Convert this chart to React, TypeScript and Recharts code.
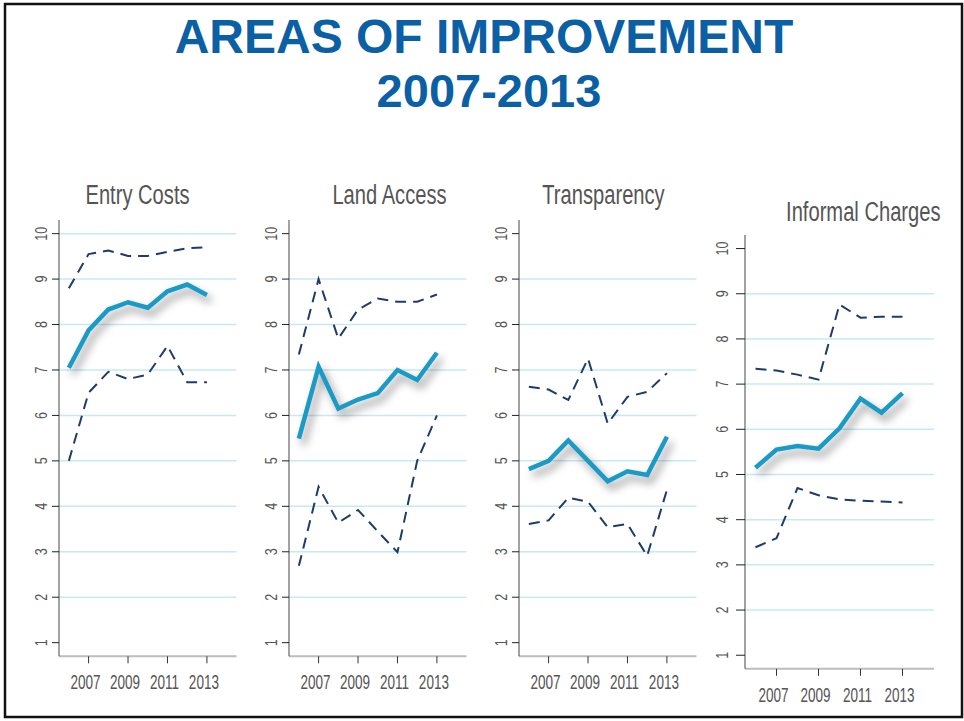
import React from "react";
import { LineChart, Line, XAxis, YAxis, ReferenceLine } from "recharts";

const years = [2006, 2007, 2008, 2009, 2010, 2011, 2012, 2013];
const yearTicks = [2007, 2009, 2011, 2013];
const scoreTicks = [1, 2, 3, 4, 5, 6, 7, 8, 9, 10];

const entryUpper = [8.8, 9.55, 9.63, 9.51, 9.51, 9.6, 9.68, 9.7];
const entryMain = [7.05, 7.87, 8.33, 8.49, 8.37, 8.73, 8.88, 8.65];
const entryLower = [5.0, 6.5, 6.96, 6.8, 6.9, 7.53, 6.73, 6.73];

const landUpper = [7.34, 9.0, 7.69, 8.33, 8.57, 8.5, 8.5, 8.66];
const landMain = [5.49, 7.07, 6.15, 6.35, 6.49, 7.0, 6.78, 7.38];
const landLower = [2.69, 4.43, 3.64, 3.92, 3.45, 2.99, 5.0, 6.0];

const transUpper = [6.63, 6.57, 6.34, 7.25, 5.82, 6.41, 6.52, 6.93];
const transMain = [4.82, 5.0, 5.45, 5.0, 4.55, 4.77, 4.69, 5.53];
const transLower = [3.61, 3.69, 4.19, 4.1, 3.54, 3.61, 2.91, 4.36];

const informalUpper = [7.34, 7.3, 7.21, 7.1, 8.76, 8.47, 8.49, 8.49];
const informalMain = [5.15, 5.55, 5.63, 5.57, 6.02, 6.68, 6.37, 6.8];
const informalLower = [3.39, 3.59, 4.7, 4.54, 4.45, 4.42, 4.4, 4.38];

const FONT = "'Liberation Sans', Arial, Helvetica, sans-serif";
const MAIN = "#1a9ac6";
const DASH = "#1d3c6b";
const GRID = "#c8e8f6";
const TEXT = "#555";
const X_DOMAIN: [number, number] = [2005.5, 2014.5];
const Y_DOMAIN: [number, number] = [0.7, 10.3];

const toRows = (upper: number[], main: number[], lower: number[]) =>
  years.map((year, i) => ({ year, upper: upper[i], main: main[i], lower: lower[i] }));

const panels = [
  { title: "Entry Costs", rows: toRows(entryUpper, entryMain, entryLower), grid: [2, 3, 4, 5, 6, 7, 8, 9, 10],
    left: 59, top: 219.9, w: 177.5, h: 436.3, titleX: 137.5, titleY: 203.8, tickLen: 7, gap: 12.5 },
  { title: "Land Access", rows: toRows(landUpper, landMain, landLower), grid: [2, 3, 4, 5, 6, 7, 8, 9],
    left: 289, top: 219.9, w: 177.5, h: 436.3, titleX: 389.5, titleY: 203.8, tickLen: 7, gap: 12.5 },
  { title: "Transparency", rows: toRows(transUpper, transMain, transLower), grid: [2, 3, 4, 5, 6, 7, 8, 9],
    left: 519.2, top: 219.9, w: 177.5, h: 436.3, titleX: 603.5, titleY: 203.8, tickLen: 7, gap: 12.5 },
  { title: "Informal Charges", rows: toRows(informalUpper, informalMain, informalLower), grid: [2, 3, 4, 5, 6, 7, 8, 9],
    left: 744.5, top: 234.7, w: 189, h: 433.8, titleX: 863.3, titleY: 221, tickLen: 9, gap: 17 },
];

function XTick({ x, y, payload }: any) {
  return (
    <g transform={`translate(${x - 3},${y + 24})`}>
      <text textAnchor="middle" fontSize={20.5} fill={TEXT} fontFamily={FONT} transform="scale(0.66,1)">
        {payload.value}
      </text>
    </g>
  );
}

function makeYTick(tickLen: number, gap: number) {
  return ({ x, y, payload }: any) => {
    const bx = x + tickLen + 2 - gap;
    return (
      <g transform={`translate(${bx},${y}) rotate(-90)`}>
        <text textAnchor="middle" fontSize={17} fill={TEXT} fontFamily={FONT} transform="scale(0.74,1)">
          {payload.value}
        </text>
      </g>
    );
  };
}

function Panel({ p }: { p: (typeof panels)[number] }) {
  const yw = 40;
  const mt = 10;
  const mr = 5;
  const xh = 50;
  const cw = yw + p.w + mr;
  const ch = mt + p.h + xh;
  return (
    <>
      <div style={{ position: "absolute", left: p.left - yw, top: p.top - mt }}>
        <LineChart width={cw} height={ch} data={p.rows} margin={{ top: mt, right: mr, bottom: 0, left: 0 }}>
          {p.grid.map((g) => (
            <ReferenceLine key={g} y={g} stroke={GRID} strokeWidth={1.5} />
          ))}
          <XAxis
            dataKey="year"
            type="number"
            domain={X_DOMAIN}
            ticks={yearTicks}
            height={xh}
            tickSize={7}
            axisLine={{ stroke: "#bdbdbd", strokeWidth: 2 }}
            tickLine={{ stroke: "#333" }}
            tick={<XTick />}
            interval={0}
          />
          <YAxis
            type="number"
            domain={Y_DOMAIN}
            ticks={scoreTicks}
            width={yw}
            tickSize={p.tickLen}
            axisLine={{ stroke: "#444" }}
            tickLine={{ stroke: "#222" }}
            tick={makeYTick(p.tickLen, p.gap)}
            interval={0}
          />
          <Line dataKey="upper" type="linear" stroke={DASH} strokeWidth={2} strokeDasharray="11 7" dot={false} isAnimationActive={false} />
          <Line dataKey="lower" type="linear" stroke={DASH} strokeWidth={2} strokeDasharray="11 7" dot={false} isAnimationActive={false} />
        </LineChart>
      </div>
      {/* main series on its own layer so the html drop-shadow filter applies */}
      <div
        style={{
          position: "absolute",
          left: p.left - yw,
          top: p.top - mt,
          filter: "drop-shadow(4px 6px 4px rgba(0,0,0,0.42))",
        }}
      >
        <LineChart width={cw} height={ch} data={p.rows} margin={{ top: mt, right: mr, bottom: xh, left: yw }}>
          <XAxis dataKey="year" type="number" domain={X_DOMAIN} hide />
          <YAxis type="number" domain={Y_DOMAIN} hide />
          <Line dataKey="main" type="linear" stroke={MAIN} strokeWidth={4.5} dot={false} isAnimationActive={false} />
        </LineChart>
      </div>
    </>
  );
}

export default function App() {
  return (
    <div style={{ position: "absolute", left: 0, top: 0, width: 964, height: 721, background: "#fff", overflow: "hidden" }}>
      {panels.map((p) => (
        <Panel key={p.title} p={p} />
      ))}
      <svg width={964} height={721} style={{ position: "absolute", left: 0, top: 0, pointerEvents: "none" }}>
        <rect x={5} y={4} width={957} height={713} fill="none" stroke="#111" strokeWidth={2.5} />
        <text x={484} y={53.3} textAnchor="middle" fontSize={48} fontWeight="bold" fill="#0b5fa5" fontFamily={FONT}>
          AREAS OF IMPROVEMENT
        </text>
        <text x={489} y={107} textAnchor="middle" fontSize={47} fontWeight="bold" fill="#0b5fa5" fontFamily={FONT}>
          2007-2013
        </text>
        {panels.map((p) => (
          <g key={p.title} transform={`translate(${p.titleX},${p.titleY})`}>
            <text textAnchor="middle" fontSize={28} fill={TEXT} fontFamily={FONT} transform="scale(0.72,1)">
              {p.title}
            </text>
          </g>
        ))}
      </svg>
    </div>
  );
}
